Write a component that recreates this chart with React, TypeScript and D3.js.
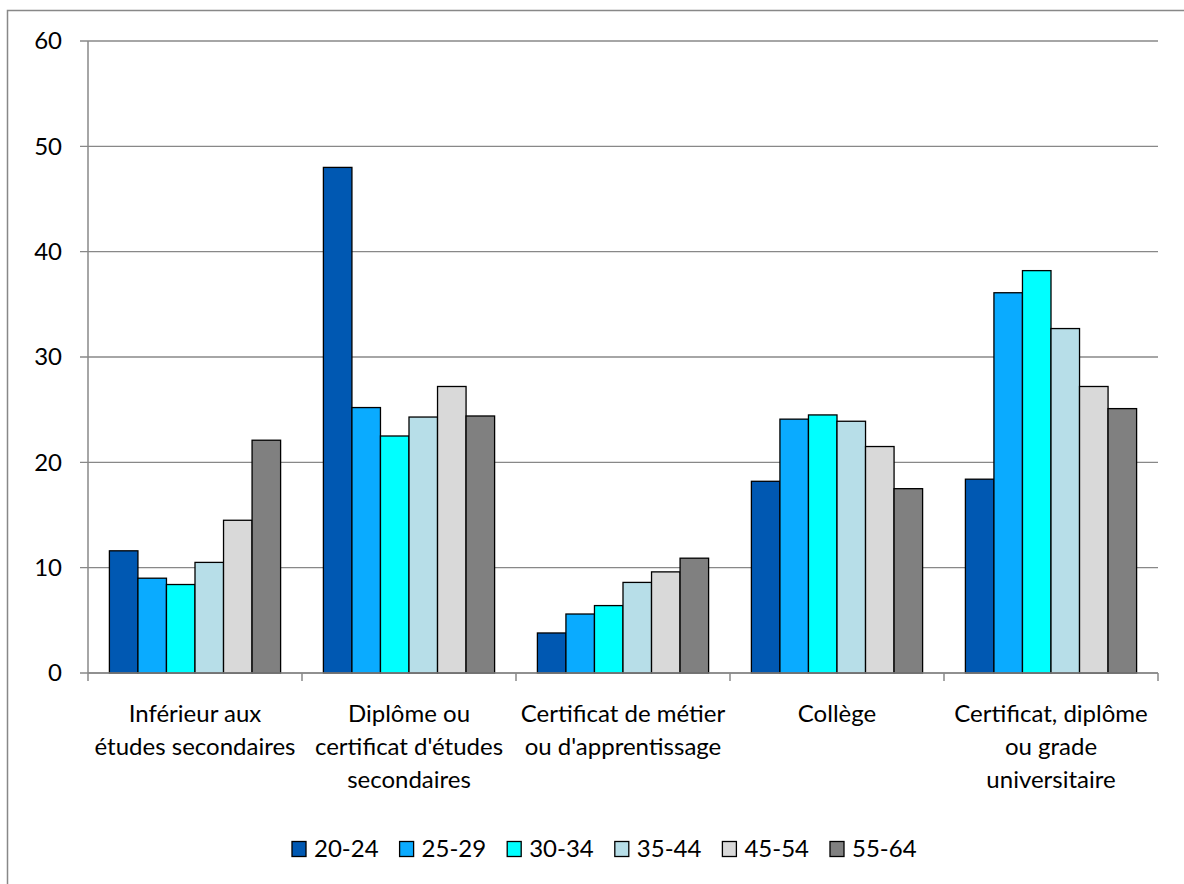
import React from "react";
import * as d3 from "d3";

// Education level categories (x axis), each label split into lines
const categories = [
  "Inférieur aux études secondaires",
  "Diplôme ou certificat d'études secondaires",
  "Certificat de métier ou d'apprentissage",
  "Collège",
  "Certificat, diplôme ou grade universitaire",
];
const categoryLines = [
  ["Inférieur aux", "études secondaires"],
  ["Diplôme ou", "certificat d'études", "secondaires"],
  ["Certificat de métier", "ou d'apprentissage"],
  ["Collège"],
  ["Certificat, diplôme", "ou grade", "universitaire"],
];

// Age groups (series)
const series = ["20-24", "25-29", "30-34", "35-44", "45-54", "55-64"];
const seriesColors = ["#0058b2", "#0aabff", "#00ffff", "#b7dee8", "#d9d9d9", "#808080"];

// Percentages per age group, one value per education level
const v20_24 = [11.6, 48.0, 3.8, 18.2, 18.4];
const v25_29 = [9.0, 25.2, 5.6, 24.1, 36.1];
const v30_34 = [8.4, 22.5, 6.4, 24.5, 38.2];
const v35_44 = [10.5, 24.3, 8.6, 23.9, 32.7];
const v45_54 = [14.5, 27.2, 9.6, 21.5, 27.2];
const v55_64 = [22.1, 24.4, 10.9, 17.5, 25.1];
const seriesValues = [v20_24, v25_29, v30_34, v35_44, v45_54, v55_64];

const yTicks = [0, 10, 20, 30, 40, 50, 60];

const FONT = "Lato, 'Noto Sans', sans-serif";
const GRID = "#888888";

export default function App() {
  const width = 1184;
  const height = 884;
  const plot = { left: 88, right: 1158, top: 41, bottom: 673 };

  const x0 = d3.scaleBand<string>().domain(categories).range([plot.left, plot.right]).padding(0);
  const x1 = d3
    .scaleBand<string>()
    .domain(series)
    .range([0, x0.bandwidth()])
    .paddingInner(0)
    .paddingOuter(0.75);
  const y = d3.scaleLinear().domain([0, 60]).range([plot.bottom, plot.top]);

  const boundaries = [...categories.map((c) => x0(c) as number), plot.right];

  const legendStride = 107.6;
  const legendStart = 292;
  const legendY = 849;

  return (
    <svg
      width={width}
      height={height}
      style={{ position: "absolute", left: 0, top: 0, background: "#fff" }}
      fontFamily={FONT}
    >
      {/* chart frame */}
      <rect x={7.5} y={10.5} width={1220} height={900} fill="#fff" stroke={GRID} strokeWidth={1.5} />

      {/* gridlines and y labels */}
      {yTicks.map((t) => (
        <g key={t}>
          <line x1={plot.left - 8} x2={plot.right} y1={y(t)} y2={y(t)} stroke={GRID} strokeWidth={1.3} />
          <text x={62} y={y(t)} dy="0.35em" textAnchor="end" fontSize={24} fill="#000">
            {t}
          </text>
        </g>
      ))}

      {/* bars */}
      {categories.map((c, ci) => (
        <g key={c} transform={`translate(${x0(c)},0)`}>
          {series.map((s, si) => {
            const v = seriesValues[si][ci];
            return (
              <rect
                key={s}
                x={x1(s)}
                y={y(v)}
                width={x1.bandwidth()}
                height={y(0) - y(v)}
                fill={seriesColors[si]}
                stroke="#000"
                strokeWidth={1.3}
              />
            );
          })}
        </g>
      ))}

      {/* axes */}
      <line x1={plot.left} x2={plot.left} y1={plot.top} y2={plot.bottom} stroke={GRID} strokeWidth={1.5} />
      <line x1={plot.left} x2={plot.right} y1={plot.bottom} y2={plot.bottom} stroke={GRID} strokeWidth={1.5} />
      {boundaries.map((bx, i) => (
        <line key={i} x1={bx} x2={bx} y1={plot.bottom} y2={plot.bottom + 8} stroke={GRID} strokeWidth={1.5} />
      ))}

      {/* category labels */}
      {categories.map((c, ci) => (
        <text
          key={c}
          x={(x0(c) as number) + x0.bandwidth() / 2}
          y={722}
          textAnchor="middle"
          fontSize={24}
          fill="#000"
        >
          {categoryLines[ci].map((line, li) => (
            <tspan key={li} x={(x0(c) as number) + x0.bandwidth() / 2} dy={li === 0 ? 0 : 33}>
              {line}
            </tspan>
          ))}
        </text>
      ))}

      {/* legend */}
      {series.map((s, si) => {
        const lx = legendStart + si * legendStride;
        return (
          <g key={s}>
            <rect x={lx} y={legendY - 7.5} width={14} height={15} fill={seriesColors[si]} stroke="#000" strokeWidth={1.3} />
            <text x={lx + 22} y={legendY} dy="0.35em" fontSize={24} fill="#000">
              {s}
            </text>
          </g>
        );
      })}
    </svg>
  );
}
